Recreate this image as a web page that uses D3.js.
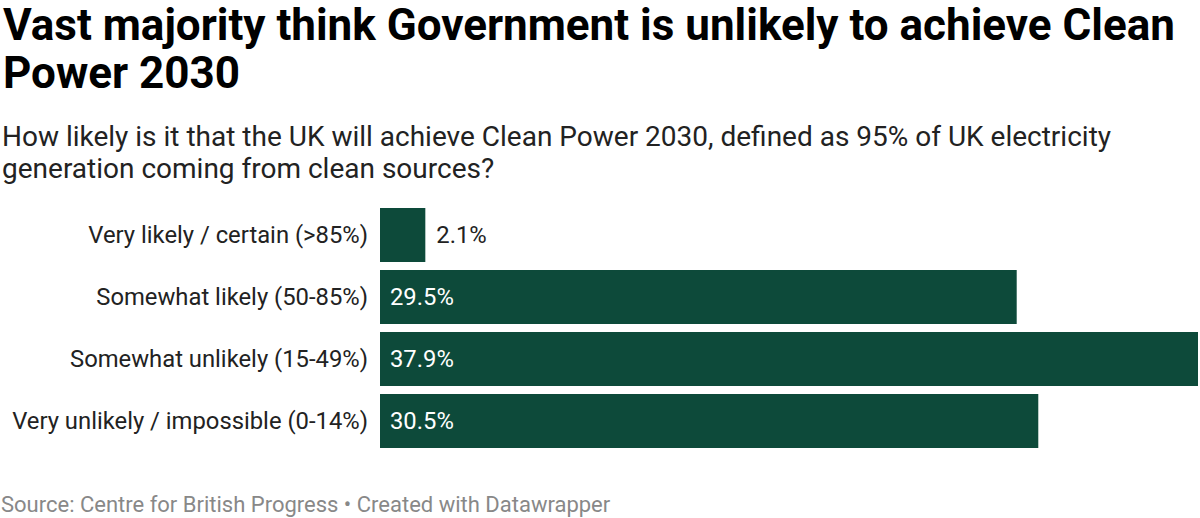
<!DOCTYPE html>
<html><head><meta charset="utf-8">
<script src="https://cdn.jsdelivr.net/npm/d3@7"></script>
<style>
body{margin:0;background:#fff;font-family:Roboto,sans-serif;}
</style></head><body>
<svg id="c" width="1200" height="518"></svg>
<script>
const categories = ["Very likely / certain (>85%)","Somewhat likely (50-85%)","Somewhat unlikely (15-49%)","Very unlikely / impossible (0-14%)"];
const values = [2.1, 29.5, 37.9, 30.5];
const valueLabels = ["2.1%","29.5%","37.9%","30.5%"];
const titleLines = ["Vast majority think Government is unlikely to achieve Clean","Power 2030"];
const subtitleLines = ["How likely is it that the UK will achieve Clean Power 2030, defined as 95% of UK electricity","generation coming from clean sources?"];
const source = "Source: Centre for British Progress • Created with Datawrapper";

const svg = d3.select("#c");
svg.append("g").selectAll("text").data(titleLines).join("text")
  .attr("x",3).attr("y",(d,i)=>40+i*48)
  .attr("font-size",44).attr("font-weight",700).attr("fill","#000").text(d=>d);
svg.append("g").selectAll("text").data(subtitleLines).join("text")
  .attr("x",2).attr("y",(d,i)=>146+i*32)
  .attr("font-size",28).attr("fill","#222").text(d=>d);

const x = d3.scaleLinear().domain([0, d3.max(values)]).range([380, 1198]);
const y = d3.scaleBand().domain(categories).range([204, 452]).paddingInner(8/62).paddingOuter(4/62);

const g = svg.append("g");
g.selectAll("rect").data(values).join("rect")
  .attr("x",x(0)).attr("y",(d,i)=>y(categories[i]))
  .attr("width",d=>x(d)-x(0)).attr("height",y.bandwidth())
  .attr("fill","#0d4a3a");
g.selectAll("text.cat").data(categories).join("text").attr("class","cat")
  .attr("x",368).attr("y",d=>y(d)+y.bandwidth()/2).attr("dy","0.35em")
  .attr("text-anchor","end").attr("font-size",23.8).attr("fill","#222").text(d=>d);
g.selectAll("text.val").data(values).join("text").attr("class","val")
  .attr("x",(d,i)=> (x(d)-x(0) < 60) ? x(d)+11 : x(0)+10)
  .attr("y",(d,i)=>y(categories[i])+y.bandwidth()/2).attr("dy","0.35em")
  .attr("font-size",23.8)
  .attr("fill",(d)=> (x(d)-x(0) < 60) ? "#222" : "#fff")
  .text((d,i)=>valueLabels[i]);

svg.append("text").attr("x",1).attr("y",512).attr("font-size",22).attr("fill","#888").text(source);
</script></body></html>
